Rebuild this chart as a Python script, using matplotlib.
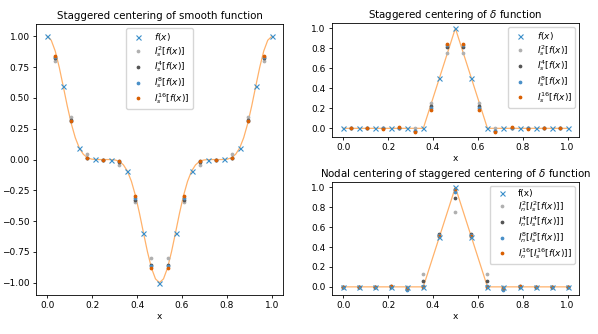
import matplotlib
matplotlib.use("Agg")
import matplotlib.pyplot as plt

# grid positions
x_nodes = [i / 14 for i in range(15)]
x_stag = [(i + 0.5) / 14 for i in range(14)]
x_fine = [i / 56 for i in range(57)]

# smooth function (half, mirrored around x=0.5)
curve_half = [1.0, 0.969, 0.881, 0.749, 0.594, 0.435, 0.292, 0.177, 0.094, 0.043,
              0.015, 0.004, 0.0005, 0.0, 0.0, 0.0, -0.0005, -0.004, -0.015, -0.043,
              -0.094, -0.177, -0.292, -0.435, -0.594, -0.749, -0.881, -0.969, -1.0]
curve_smooth = curve_half + curve_half[-2::-1]

f_smooth = [1.0, 0.594, 0.094, 0.0005, -0.0005, -0.094, -0.594, -1.0,
            -0.594, -0.094, -0.0005, 0.0005, 0.094, 0.594, 1.0]

smooth_i2 = [0.797, 0.344, 0.047, 0.0, -0.047, -0.344, -0.797,
             -0.797, -0.344, -0.047, 0.0, 0.047, 0.344, 0.797]
smooth_i4 = [0.826, 0.325, 0.016, 0.0, -0.016, -0.325, -0.854,
             -0.854, -0.325, -0.016, 0.0, 0.016, 0.325, 0.826]
smooth_i8 = [0.835, 0.315, 0.012, 0.0, -0.012, -0.312, -0.868,
             -0.868, -0.312, -0.012, 0.0, 0.012, 0.315, 0.835]
smooth_i16 = [0.842, 0.31, 0.01, 0.0, -0.01, -0.30, -0.878,
              -0.878, -0.30, -0.01, 0.0, 0.01, 0.31, 0.842]

# delta function on the nodes
f_delta = [0, 0, 0, 0, 0, 0, 0.5, 1.0, 0.5, 0, 0, 0, 0, 0, 0]

delta_i2 = [0, 0, 0, 0, 0, 0.25, 0.75, 0.75, 0.25, 0, 0, 0, 0, 0]
delta_i4 = [0, 0, 0, 0, -0.031, 0.219, 0.812, 0.812, 0.219, -0.031, 0, 0, 0, 0]
delta_i8 = [0, 0, 0, 0.006, -0.03, 0.20, 0.83, 0.83, 0.20, -0.03, 0.006, 0, 0, 0]
delta_i16 = [0, 0, -0.003, 0.01, -0.035, 0.18, 0.845, 0.845, 0.18, -0.035, 0.01, -0.003, 0, 0]

# nodal back-interpolation of the staggered delta
nodal_i2 = [0, 0, 0, 0, 0, 0.125, 0.5, 0.75, 0.5, 0.125, 0, 0, 0, 0, 0]
nodal_i4 = [0, 0, 0, 0, -0.02, 0.055, 0.531, 0.887, 0.531, 0.055, -0.02, 0, 0, 0, 0]
nodal_i8 = [0, 0, 0, 0.005, -0.03, 0.01, 0.52, 0.955, 0.52, 0.01, -0.03, 0.005, 0, 0, 0]
nodal_i16 = [0, 0, 0, 0.005, -0.012, 0.0, 0.51, 0.98, 0.51, 0.0, -0.012, 0.005, 0, 0, 0]

plt.rcParams["font.size"] = 6.5
plt.rcParams["axes.titlesize"] = 7.4

line_col = "#ffb26b"
cols = ["#b0b0b0", "#555555", "#4a90c8", "#d95f02"]
ms = 3.4


def draw(ax, xl, yl, xm, ym, xs, series, labels, title, loc, flabel):
    ax.plot(xl, yl, color=line_col, lw=0.9, zorder=1)
    ax.plot(xm, ym, "x", color="#3b8fc9", ms=3.6, mew=0.8, label=flabel, zorder=3)
    for s, c, lab in zip(series, cols, labels):
        ax.plot(xs, s, ".", color=c, ms=ms, label=lab, zorder=2)
    ax.set_title(title, pad=4)
    ax.set_xlabel("x", labelpad=1)
    ax.set_xticks([0.0, 0.2, 0.4, 0.6, 0.8, 1.0])
    ax.tick_params(length=2.5, pad=2, width=0.6)
    for sp in ax.spines.values():
        sp.set_linewidth(0.6)
    ax.legend(loc=loc, fontsize=6.5, handletextpad=0.8, borderpad=0.35,
              labelspacing=0.1, borderaxespad=0.4)


fig = plt.figure(figsize=(5.98, 3.34), dpi=100)
ax1 = fig.add_axes([0.0602, 0.1168, 0.413, 0.811])
ax2 = fig.add_axes([0.555, 0.5898, 0.413, 0.341])
ax3 = fig.add_axes([0.555, 0.1168, 0.413, 0.338])

stag_labels = [r"$I_s^{2}[f(x)]$", r"$I_s^{4}[f(x)]$", r"$I_s^{8}[f(x)]$", r"$I_s^{16}[f(x)]$"]
nodal_labels = [r"$I_n^{2}[I_s^{2}[f(x)]]$", r"$I_n^{4}[I_s^{4}[f(x)]]$",
                r"$I_n^{8}[I_s^{8}[f(x)]]$", r"$I_n^{16}[I_s^{16}[f(x)]]$"]

draw(ax1, x_fine, curve_smooth, x_nodes, f_smooth, x_stag,
     [smooth_i2, smooth_i4, smooth_i8, smooth_i16], stag_labels,
     "Staggered centering of smooth function", "upper center", r"$f(x)$")
ax1.set_yticks([-1.0, -0.75, -0.5, -0.25, 0.0, 0.25, 0.5, 0.75, 1.0])

draw(ax2, x_nodes, f_delta, x_nodes, f_delta, x_stag,
     [delta_i2, delta_i4, delta_i8, delta_i16], stag_labels,
     r"Staggered centering of $\delta$ function", "upper right", r"$f(x)$")

draw(ax3, x_nodes, f_delta, x_nodes, f_delta, x_nodes,
     [nodal_i2, nodal_i4, nodal_i8, nodal_i16], nodal_labels,
     r"Nodal centering of staggered centering of $\delta$ function", "upper right", "f(x)")

fig.savefig("out.png", dpi=100)
